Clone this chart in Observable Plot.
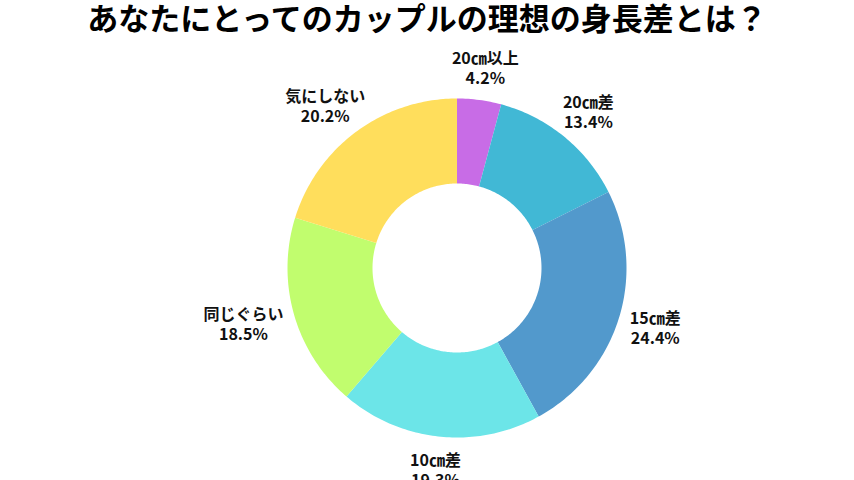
<!DOCTYPE html>
<html><head><meta charset="utf-8">
<script src="https://cdn.jsdelivr.net/npm/d3@7"></script>
<script src="https://cdn.jsdelivr.net/npm/@observablehq/plot@0.6"></script>
<style>
body{margin:0;background:#fff;width:854px;height:480px;overflow:hidden;font-family:"Noto Sans CJK JP","Noto Sans",sans-serif;}
#title{height:40px;line-height:34px;text-align:center;font-size:31px;font-weight:bold;color:#000;white-space:nowrap;}
</style></head>
<body>
<div id="title">あなたにとってのカップルの理想の身長差とは？</div>
<div id="chart"></div>
<script>
const categories = ["20㎝以上", "20㎝差", "15㎝差", "10㎝差", "同じぐらい", "気にしない"];
const values = [4.2, 13.4, 24.4, 19.3, 18.5, 20.2];
const colors = ["#C86CE6", "#41B8D5", "#5299CC", "#6CE5E8", "#C1FD6E", "#FFDE5C"];

const R = 169.5, cx = 456.5, cy = 267.5 - 40, W = 854, H = 440;
const inner = 0.4985, outer = 1, anchorR = 1.075;
const fontSize = 16, lineH = 20;
const ctx = document.createElement("canvas").getContext("2d");
ctx.font = `bold ${fontSize}px "Noto Sans CJK JP"`;

const arcs = d3.pie().sort(null)(values);
const slices = arcs.map((a, i) => {
  const n = Math.max(8, Math.ceil((a.endAngle - a.startAngle) * 60));
  const ring = [];
  for (let k = 0; k <= n; k++) {
    const t = a.startAngle + (a.endAngle - a.startAngle) * k / n;
    ring.push([outer * Math.sin(t), -outer * Math.cos(t)]);
  }
  for (let k = n; k >= 0; k--) {
    const t = a.startAngle + (a.endAngle - a.startAngle) * k / n;
    ring.push([inner * Math.sin(t), -inner * Math.cos(t)]);
  }
  ring.push(ring[0]);
  return {type: "Feature", properties: {name: categories[i], color: colors[i]}, geometry: {type: "Polygon", coordinates: [ring]}};
});
const labels = arcs.map((a, i) => {
  const m = (a.startAngle + a.endAngle) / 2;
  const lines = [categories[i], values[i].toFixed(1) + "%"];
  const w = Math.max(...lines.map(l => ctx.measureText(l).width));
  const h = lines.length * lineH;
  const s = Math.sin(m), c = -Math.cos(m);
  return {
    x: anchorR * s + (w / 2) * s / R,
    y: anchorR * c + (h / 2) * c / R,
    text: lines.join("\n")
  };
});

const domain = {type: "MultiPoint", coordinates: [[-cx / R, -cy / R], [(W - cx) / R, (H - cy) / R]]};

const chart = Plot.plot({
  width: W, height: H, margin: 0,
  projection: {type: "identity", domain},
  marks: [
    Plot.geo(slices, {fill: d => d.properties.color, stroke: null}),
    Plot.text(labels, {x: "x", y: "y", text: "text", fontSize, fontWeight: "bold", lineHeight: lineH / fontSize, fill: "#111", textAnchor: "middle", lineAnchor: "middle", fontFamily: "Noto Sans CJK JP"})
  ]
});
document.getElementById("chart").appendChild(chart);
</script>
</body></html>
